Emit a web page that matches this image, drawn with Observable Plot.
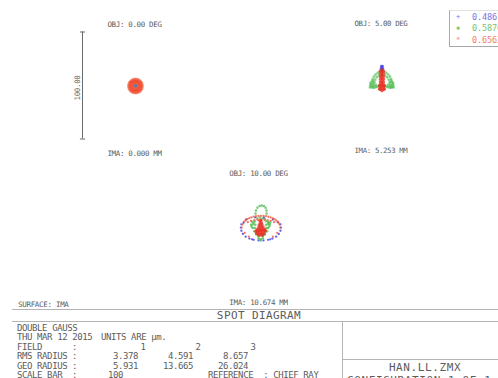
<!DOCTYPE html>
<html><head><meta charset="utf-8">
<script src="https://cdn.jsdelivr.net/npm/d3@7"></script>
<script src="https://cdn.jsdelivr.net/npm/@observablehq/plot@0.6"></script>
<style>
html,body{margin:0;padding:0;background:#fff;}
#root{position:relative;width:498px;height:378px;overflow:hidden;font-family:"DejaVu Sans Mono",monospace;color:#5c5c5c;}
.t{position:absolute;white-space:pre;line-height:1;}
.panel{position:absolute;}
.panel text{letter-spacing:-0.35px;}
.ln{position:absolute;background:#b4b4b4;}
</style></head><body><div id="root"></div>
<script>
// ---- data (units: micrometres, y up, relative to chief ray) ----
const fieldAngles = [0.00, 5.00, 10.00];
const imageHeights = [0.000, 5.253, 10.674];
const fieldNumbers = [1, 2, 3];
const rmsRadius = [3.378, 4.591, 8.657];
const geoRadius = [5.931, 13.665, 26.024];
const wavelengths = [0.4861, 0.5876, 0.6563];
const scaleBar = 100;
const lensTitle = "DOUBLE GAUSS";
const dateText = "THU MAR 12 2015";
const fileName = "HAN.LL.ZMX";
const surfaceName = "IMA";

const field1Blue = [[0.9,0.2],[1.4,-0.6],[0.4,-0.7]];
const field1Green = [[1.3,0.3],[0.5,-0.2],[1.1,-1.0]];
const field1Red = [[6.9,-0.5],[6.1,2.5],[3.9,4.7],[0.9,5.5],[-2.1,4.7],[-4.3,2.5],[-5.1,-0.5],[-4.3,-3.5],[-2.1,-5.7],[0.9,-6.5],[3.9,-5.7],[6.1,-3.5],
  [6.6,1.1],[5.1,3.8],[2.5,5.3],[-0.7,5.3],[-3.3,3.8],[-4.8,1.1],[-4.8,-2.1],[-3.3,-4.8],[-0.7,-6.3],[2.5,-6.3],[5.1,-4.8],[6.6,-2.1],
  [5.4,-0.5],[4.1,2.7],[0.9,4],[-2.3,2.7],[-3.6,-0.5],[-2.3,-3.7],[0.9,-5],[4.1,-3.7],
  [4.9,1.3],[2.7,3.5],[-0.9,3.5],[-3.1,1.3],[-3.1,-2.3],[-0.9,-4.5],[2.7,-4.5],[4.9,-2.3],
  [3.9,-0.5],[2.4,2.1],[-0.6,2.1],[-2.1,-0.5],[-0.6,-3.1],[2.4,-3.1],[0.9,2.5],[0.9,-3.5],
  [2.5,0.5],[-0.7,0.5],[2.5,-1.5],[-0.7,-1.5]];

const field2Blue = [[0.9,16.5],[0,15.2],[1.8,15.2],[0.9,14.6],[-0.3,13.6],[2.1,13.6],[0.9,13],[0.2,17],[1.6,17]];
const field2Green = [[-9,-3],[-9.2,-0.5],[-8.8,2],[-8,4.5],[-6.8,6.8],[-5.2,8.8],[-3.2,10.4],[-1.2,11.5],[0.9,12],[3,11.5],[5,10.4],[7,8.8],[8.6,6.8],[9.8,4.5],[10.6,2],[11,-0.5],[10.8,-3],
  [-6.5,-1.5],[-6.3,1.5],[-5.5,4],[-4,6.3],[-2,8],[0.9,8.6],[3.8,8],[5.8,6.3],[7.3,4],[8.1,1.5],[8.3,-1.5],
  [-10.5,-3.4],[-8,-3.8],[-6.5,-3.6],[-5,-3.2],[-3.5,-2.6],[-2,-2],[3.8,-2],[5.3,-2.6],[6.8,-3.2],[8.3,-3.6],[9.8,-3.8],[12,-3.4],
  [-10.2,-1.5],[-7.8,-1.8],[-4.8,-1],[6.6,-1],[9.6,-1.8],[11.8,-1.5],[-10,0.8],[-7.2,0.6],[9,0.6],[11.6,0.8],[-7.6,3],[9.4,3]];
const field2Red = [[0.9,13.5],[0.9,11.5],[0.9,9.5],[0.9,7.5],[0.9,5.5],[0.9,3.5],[0.9,1.5],[0.9,-0.5],[0.9,-2.5],[0.9,-4.5],[0.9,-6.5],
  [-0.7,12],[-0.7,9.5],[-0.7,7],[-0.7,4.5],[-0.7,2],[-0.7,-0.5],[-0.7,-3],[-0.7,-5.5],
  [2.5,12],[2.5,9.5],[2.5,7],[2.5,4.5],[2.5,2],[2.5,-0.5],[2.5,-3],[2.5,-5.5],
  [-1.6,-5],[3.4,-5],[-1.5,-2],[3.3,-2]];

const field3Blue = [[-16.5,6.5],[-16,3.5],[-14.6,0.5],[-12,-2],[-8.5,-3.8],[-4.5,-5],[0,-5.5],[4.6,-5.5],[9,-5],[13,-3.8],[16.5,-2],[19,0.5],[20.5,3.5],[21,6.5],[20.5,9.5],[-16,9.5],
  [-11.5,14],[-3,16],[5,16],[13.5,14],[-14,11],[18,11.5],[-6,-4.5],[11,-4.5]];
const field3Green = [[-2.8,19.6],[-2.4,22.5],[-1,25],[1,26.6],[3,27.1],[5,26.6],[6.6,25],[7.4,22.5],[7.6,19.6],
  [-6,12],[-3.5,12.5],[7,12.5],[9.5,12],[11,11],[-7,9],[-5,9.5],[-3,9],[7,9],[9,9.5],[10.5,9],
  [-5.5,6],[-3.5,6],[7.5,6],[9,6],[-4,3],[-2.5,2.5],[6.5,2.5],[8,3],[-2,0],[6,0],[0,-1.5],[4,-1.5],
  [0,-3.5],[2,-4.5],[4,-3.5],[2,-5.6],[-1,15],[1.5,16],[4,15],[6,14.5],[-4.5,11],[9,11],[-6.5,7.5],[10,7.5]];
const field3RedRing = [[-15.7,6.5],[-15.1,9.3],[-13.3,12],[-10.4,14.3],[-6.7,16],[-2.4,17.1],[2.3,17.5],[7,17.1],[11.3,16],[15,14.3],[17.9,12],[19.7,9.3],[20.3,6.5],
  [-12,13.3],[-8.6,15.3],[-4.6,16.7],[0,17.4],[4.7,17.4],[9.2,16.6],[13.2,15.2],[16.5,13.2],[18.9,10.7],
  [-10,11.5],[-7,12.8],[-4,13.5],[-1,13.8],[2.3,14],[5.6,13.8],[8.6,13.5],[11.6,12.8],[14.6,11.5],
  [-13,1.5],[-9,-2],[13.5,-2],[17.5,1.5]];
const field3RedCore = [[1,13],[2.5,13],[1.5,11],[3,11],[0.5,9],[2,9],[3.5,9],[0,7],[1.5,7],[3,7],[4.5,7],[-1.5,5],[0,5],[1.5,5],[3,5],[4.5,5],[6,5],
  [-2.5,3],[-1,3],[0.5,3],[2,3],[3.5,3],[5,3],[6.5,3.5],[-2,1],[-0.5,1],[1,1],[2.5,1],[4,1],[5.5,1],[0,-0.8],[2,-0.8],[4,-0.8]];

// ---- layout / style ----
const K = 1.07;               // pixels per micrometre
const BLUE = "#3434e6", GREEN = "#22a622", RED = "#e8281c";
const root = document.getElementById("root");
const INK = "#5c5c5c";

function txt(s, x, cy, fs, anchor = "start", opts = {}) {
  const d = document.createElement("div");
  d.className = "t";
  d.textContent = s;
  d.style.fontSize = fs + "px";
  d.style.top = (cy - 0.48 * fs) + "px";
  if (anchor === "start") d.style.left = x + "px";
  else if (anchor === "end") d.style.right = (498 - x) + "px";
  else { d.style.left = x + "px"; d.style.transform = "translateX(-50%)"; }
  if (opts.ls != null) d.style.letterSpacing = opts.ls + "px";
  if (opts.color) d.style.color = opts.color;
  root.appendChild(d);
  return d;
}
function line(x, y, w, h) {
  const d = document.createElement("div");
  d.className = "ln";
  Object.assign(d.style, {left: x + "px", top: y + "px", width: w + "px", height: h + "px"});
  root.appendChild(d);
}

function panel(i, cx, cy, layers, extra = []) {
  const W = 240, H = 160;
  const fontProps = {fontFamily: "DejaVu Sans Mono", fontSize: 7.5, fill: INK};
  const svg = Plot.plot({
    width: W, height: H, margin: 0,
    x: {domain: [-W / 2 / K, W / 2 / K], axis: null},
    y: {domain: [-H / 2 / K, H / 2 / K], axis: null},
    style: {background: "transparent", overflow: "visible"},
    marks: [
      ...layers.map(([pts, color, r, op]) => Plot.dot(pts, {x: d => d[0], y: d => d[1], r, fill: color, fillOpacity: op ?? 0.62, stroke: "none"})),
      Plot.text([`OBJ: ${fieldAngles[i].toFixed(2)} DEG`], {frameAnchor: "top", dy: 16, ...fontProps}),
      Plot.text([`IMA: ${imageHeights[i].toFixed(3)} MM`], {frameAnchor: "top", dy: 145, ...fontProps}),
      ...extra
    ]
  });
  const wrap = document.createElement("div");
  wrap.className = "panel";
  wrap.style.left = (cx - W / 2) + "px";
  wrap.style.top = (cy - H / 2) + "px";
  wrap.appendChild(svg);
  root.appendChild(wrap);
}

// scale bar (field 1 panel)
const sbx = -48.6;
const scaleMarks = [
  Plot.ruleX([sbx], {y1: -scaleBar / 2, y2: scaleBar / 2, stroke: "#6a6a6a", strokeWidth: 1}),
  Plot.link([-scaleBar / 2, scaleBar / 2], {x1: sbx - 2.6 / K, x2: sbx + 2.6 / K, y1: d => d, y2: d => d, stroke: "#6a6a6a"}),
  Plot.text([scaleBar.toFixed(2)], {x: sbx - 5 / K, y: -2.3, rotate: -90, fontFamily: "DejaVu Sans Mono", fontSize: 7.5, fill: INK})
];

panel(0, 134, 84.5, [[field1Red, "#ee4a2e", 2.0, 0.55], [field1Green, GREEN, 1.2, 0.5], [field1Blue, "#6a6ad8", 1.2, 0.6]], scaleMarks);
panel(1, 383, 84.5, [[field2Blue, BLUE, 1.3], [field2Green, "#3cb43c", 1.4, 0.6], [field2Red, RED, 1.6, 0.75]]);
panel(2, 258, 234, [[field3Blue, "#3c3ce0", 1.15, 0.8], [field3Green, "#3cb43c", 1.25, 0.7], [field3RedRing, "#f05a40", 1.15, 0.8], [field3RedCore, RED, 1.5, 0.75]]);

// legend
const leg = document.createElement("div");
Object.assign(leg.style, {position: "absolute", left: "449px", top: "10px", width: "70px", height: "35px",
  borderLeft: "1px solid #a8a8a8", borderBottom: "1px solid #a8a8a8", borderTop: "1px solid #e2e2e2", background: "#fff"});
root.appendChild(leg);
const legColors = ["#7474e6", "#74c474", "#f07c6c"];
const legMarks = ["+", "\u25aa", "*"];
wavelengths.forEach((w, k) => {
  const y = 17 + k * 11.5;
  txt(legMarks[k], 458, y, 7, "middle", {color: legColors[k]});
  txt(w.toFixed(4), 472, y, 8.5, "start", {color: legColors[k], ls: -0.1});
});

// bottom frame
txt(`SURFACE: ${surfaceName}`, 18, 305, 7.5, "start", {ls: -0.3});
line(12, 309, 486, 1);
txt("SPOT DIAGRAM", 259, 315.5, 11, "middle", {ls: 0.4});
line(12, 321, 486, 1);
line(342, 321, 1, 57);
line(342, 359, 156, 1);
txt(fileName, 425, 367, 11, "middle", {ls: 0.6});
txt("CONFIGURATION 1 OF 1", 347, 380, 11, "start", {ls: 0.6});

const FS = 9, LS = -0.4;
const rows = [328, 337.5, 347, 356.5, 366, 375.5];
txt(lensTitle, 17, rows[0], FS, "start", {ls: LS});
txt(dateText, 17, rows[1], FS, "start", {ls: LS});
txt("UNITS ARE \u00b5m.", 101, rows[1], FS, "start", {ls: LS});
txt("FIELD", 17, rows[2], FS, "start", {ls: LS});
txt("RMS RADIUS", 17, rows[3], FS, "start", {ls: LS});
txt("GEO RADIUS", 17, rows[4], FS, "start", {ls: LS});
txt("SCALE BAR", 17, rows[5], FS, "start", {ls: LS});
[2, 3, 4, 5].forEach(r => txt(":", 72, rows[r], FS, "start"));
const colRight = [138, 193, 248];
fieldNumbers.forEach((n, k) => txt(String(n), colRight[k] + 8, rows[2], FS, "end"));
rmsRadius.forEach((v, k) => txt(v.toFixed(3), colRight[k], rows[3], FS, "end", {ls: LS}));
geoRadius.forEach((v, k) => txt(v.toFixed(3), colRight[k], rows[4], FS, "end", {ls: LS}));
txt(String(scaleBar), 108, rows[5], FS, "start", {ls: LS});
txt("REFERENCE  : CHIEF RAY", 208, rows[5], FS, "start", {ls: LS});
</script></body></html>
